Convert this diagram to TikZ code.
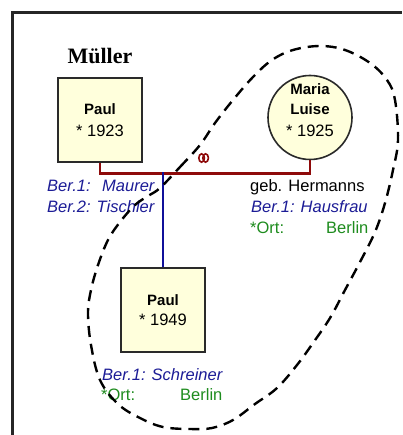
\documentclass[tikz,border=0pt]{standalone}
\usepackage{fontspec}
\setmainfont{Liberation Sans}
\newfontfamily\serifbf{Liberation Serif}
\definecolor{boxfill}{HTML}{FFFFDC}
\definecolor{boxline}{HTML}{2A2A2A}
\definecolor{marred}{HTML}{8E0A0A}
\definecolor{kidblue}{HTML}{10109A}
\definecolor{txtblue}{HTML}{1C1C96}
\definecolor{txtgreen}{HTML}{1E8C1E}
\tikzset{
  person/.style={draw=boxline, line width=1.6pt, fill=boxfill, minimum width=84pt, minimum height=84pt, inner sep=0pt},
  female/.style={circle, draw=boxline, line width=1.6pt, fill=boxfill, minimum size=84pt, inner sep=0pt},
  namet/.style={font=\fontsize{15}{18}\selectfont\bfseries, anchor=base, inner sep=0pt},
  yeart/.style={font=\fontsize{16.5}{18}\selectfont, anchor=base, inner sep=0pt},
  bluet/.style={font=\fontsize{16.5}{18}\selectfont\itshape, text=txtblue, anchor=base west, inner sep=0pt},
  greent/.style={font=\fontsize{16.5}{18}\selectfont, text=txtgreen, anchor=base west, inner sep=0pt},
  blackt/.style={font=\fontsize{16.5}{18}\selectfont, anchor=base west, inner sep=0pt},
  marline/.style={draw=marred, line width=2.6pt},
  kidline/.style={draw=kidblue, line width=2.4pt},
  lasso/.style={draw=black, line width=2.4pt, dash pattern=on 11pt off 7pt},
  frameline/.style={draw=black!85, line width=2.4pt}
}
\begin{document}
\begin{tikzpicture}[x=1pt, y=-1pt]
\useasboundingbox (0,0) rectangle (402,435);
\fill[white] (0,0) rectangle (402,435);
% frame
\draw[frameline] (12.5,435) -- (12.5,12.5) -- (402,12.5);
% family name
\node[font=\fontsize{22}{24}\selectfont\serifbf\bfseries, anchor=base, inner sep=0pt] (fam) at (100,64) {Müller};
% persons
\node[person] (p1) at (100,120) {};
\node[namet] (p1n) at (100,115) {Paul};
\node[yeart] (p1y) at (100,137) {* 1923};
\node[female] (m) at (310,117.5) {};
\node[namet] (mn1) at (310,95) {Maria};
\node[namet] (mn2) at (310,115) {Luise};
\node[yeart] (my) at (310,137) {* 1925};
\node[person] (p2) at (163,310) {};
\node[namet] (p2n) at (163,305) {Paul};
\node[yeart] (p2y) at (163,325) {* 1949};
% marriage line
\coordinate (mj) at (163,172.5);
\draw[marline] (p1.south) -- ++(0,10.5) -| (m.south);
\draw[kidline] (mj) -- (p2.north);
% marriage symbol
\draw[marred, line width=1.6pt] (201.6,158) ellipse [x radius=2.8pt, y radius=4.2pt];
\draw[marred, line width=1.6pt] (205.6,158) ellipse [x radius=2.8pt, y radius=4.2pt];
% texts father
\node[bluet] (f1a) at (47,192) {Ber.1:};
\node[bluet] (f1b) at (102,192) {Maurer};
\node[bluet] (f2) at (47,212) {Ber.2: Tischler};
% texts mother
\node[blackt] (m0) at (250,192) {geb. Hermanns};
\node[bluet] (m1) at (251,212) {Ber.1: Hausfrau};
\node[greent] (m2a) at (250,233) {*Ort:};
\node[greent] (m2b) at (326,233) {Berlin};
% texts child
\node[bluet] (c1) at (102,380) {Ber.1: Schreiner};
\node[greent] (c2a) at (101,400) {*Ort:};
\node[greent] (c2b) at (180,400) {Berlin};
% dashed lasso
\draw[lasso] plot[smooth cycle, tension=0.6] coordinates {
 (160,188) (180,167) (200,145) (215,123) (233,100) (253,77) (272,60) (293,50)
 (320,46) (345,50) (370,63) (387,80) (395,100) (398,140) (393,170) (385,203)
 (375,232) (360,262) (345,290) (330,318) (313,343) (297,365) (277,388) (255,404)
 (233,420) (212,428) (190,429) (163,427) (140,418) (118,404) (100,380) (91,345)
 (88,313) (91,290) (98,265) (108,240) (120,222) (135,205) (148,196)};
\end{tikzpicture}
\end{document}
